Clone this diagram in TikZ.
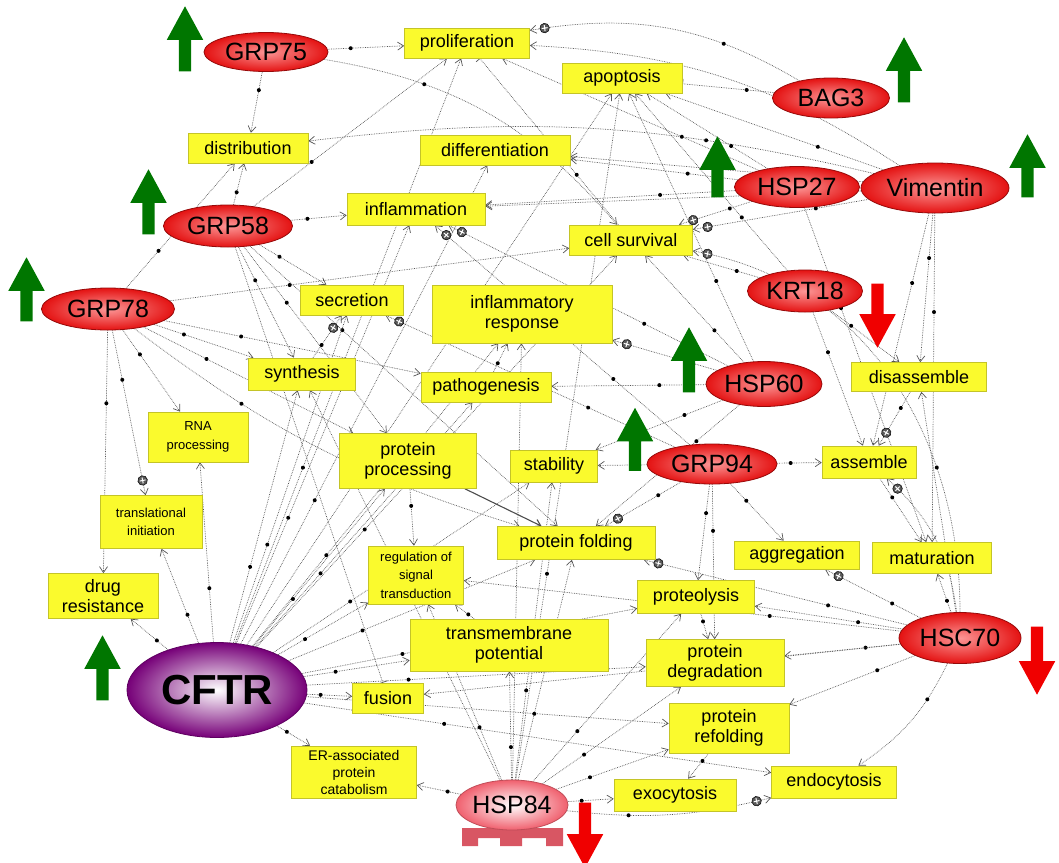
\documentclass[tikz,border=0pt]{standalone}
\usepackage{fontspec}
\setmainfont{Liberation Sans}
\usetikzlibrary{arrows.meta,shapes.geometric,shapes.arrows,decorations.markings,backgrounds}

\definecolor{boxyellow}{RGB}{250,250,45}
\definecolor{boxedge}{RGB}{196,196,40}
\definecolor{geneout}{RGB}{228,18,18}
\definecolor{genein}{RGB}{252,150,150}
\definecolor{genedge}{RGB}{150,10,10}
\definecolor{cftrout}{RGB}{118,0,120}
\definecolor{hspout}{RGB}{240,96,110}
\definecolor{upgreen}{RGB}{0,118,0}
\definecolor{downred}{RGB}{240,0,0}
\definecolor{linkgray}{RGB}{85,85,85}

\newcommand{\plusmark}{\filldraw[solid,-,fill=black!65,draw=black,line width=0.5pt] (0,0) circle (4.8pt);
  \draw[solid,-,white,line width=1pt] (-3pt,0) -- (3pt,0) (0,-3pt) -- (0,3pt);}
\newcommand{\dotmark}{\fill[black] (0,0) circle (2pt);}

\begin{document}
\begin{tikzpicture}[x=1pt,y=-1pt]
	\tikzstyle{box}=[rectangle,fill=boxyellow,draw=boxedge,line width=0.6pt,align=center,inner sep=1pt,minimum height=30pt,font=\fontsize{18}{20}\selectfont]
	\tikzstyle{smallbox}=[box,font=\fontsize{13}{18.5}\selectfont]
	\tikzstyle{gene}=[ellipse,draw=genedge,line width=0.8pt,inner color=genein,outer color=geneout,inner sep=0pt,font=\fontsize{25}{25}\selectfont]
	\tikzstyle{upmark}=[single arrow,draw=none,fill=upgreen,inner sep=6pt,single arrow head extend=12pt,single arrow tip angle=57,single arrow head indent=0pt,rotate=90]
	\tikzstyle{downmark}=[upmark,fill=downred,rotate=180]
	\tikzstyle{link}=[draw=linkgray,densely dotted,line width=0.7pt,-{Straight Barb[length=6pt,width=8pt]}]
	\tikzstyle{rel}=[link,postaction={decorate},decoration={markings,mark=at position 0.3 with {\dotmark}}]
	\tikzstyle{act}=[link,postaction={decorate},decoration={markings,mark=at position 0.3 with {\dotmark},mark=at position -15pt with {\plusmark}}]
	\tikzstyle{inh}=[rel,-{Bar[width=10pt]}]
	\useasboundingbox (0,0) rectangle (1059,862);

	\node (prolif)   at (467,43)  [box,minimum width=125pt] {proliferation};
	\node (apop)     at (622,78)  [box,minimum width=120pt] {apoptosis};
	\node (distrib)  at (248,148) [box,minimum width=120pt] {distribution};
	\node (diff)     at (495,150) [box,minimum width=150pt] {differentiation};
	\node (inflam)   at (416,209) [box,minimum width=138pt,minimum height=32pt] {inflammation};
	\node (cellsurv) at (631,240) [box,minimum width=123pt] {cell survival};
	\node (secret)   at (352,300) [box,minimum width=103pt] {secretion};
	\node (inflresp) at (522,314) [box,minimum width=180pt,minimum height=58pt] {inflammatory\\response};
	\node (synth)    at (302,374) [box,minimum width=107pt,minimum height=32pt] {synthesis};
	\node (pathog)   at (486,387) [box,minimum width=130pt] {pathogenesis};
	\node (rnaproc)  at (198,437) [smallbox,minimum width=100pt,minimum height=50pt] {RNA\\processing};
	\node (protproc) at (408,461) [box,minimum width=137pt,minimum height=55pt] {protein\\processing};
	\node (stab)     at (554,466) [box,minimum width=87pt,minimum height=32pt] {stability};
	\node (transl)   at (151,522) [smallbox,minimum width=102pt,minimum height=53pt] {translational\\initiation};
	\node (drug)     at (103,596) [box,minimum width=110pt,minimum height=45pt] {drug\\resistance};
	\node (protfold) at (576,543) [box,minimum width=158pt,minimum height=33pt] {protein folding};
	\node (regsig)   at (416,575) [smallbox,minimum width=95pt,minimum height=58pt] {regulation of\\signal\\transduction};
	\node (transmem) at (509,645) [box,minimum width=198pt,minimum height=52pt] {transmembrane\\potential};
	\node (fusion)   at (388,698) [box,minimum width=71pt] {fusion};
	\node (erad)     at (354,772) [box,minimum width=125pt,minimum height=52pt,font=\fontsize{14}{17}\selectfont] {ER-associated\\protein\\catabolism};
	\node (aggreg)   at (797,555) [box,minimum width=125pt,minimum height=28pt] {aggregation};
	\node (matur)    at (932,558) [box,minimum width=119pt,minimum height=31pt] {maturation};
	\node (proteol)  at (696,597) [box,minimum width=117pt,minimum height=33pt] {proteolysis};
	\node (protdeg)  at (715,663) [box,minimum width=138pt,minimum height=47pt] {protein\\degradation};
	\node (protref)  at (729,728) [box,minimum width=120pt,minimum height=50pt] {protein\\refolding};
	\node (endocyt)  at (834,782) [box,minimum width=125pt,minimum height=32pt] {endocytosis};
	\node (exocyt)   at (675,795) [box,minimum width=122pt,minimum height=32pt] {exocytosis};
	\node (disass)   at (919,377) [box,minimum width=135pt,minimum height=29pt] {disassemble};
	\node (assem)    at (869,462) [box,minimum width=94pt,minimum height=32pt] {assemble};

	\node (grp75) at (266,52)  [gene,minimum width=124pt,minimum height=39pt] {GRP75};
	\node (grp58) at (228,226) [gene,minimum width=129pt,minimum height=42pt] {GRP58};
	\node (grp78) at (108,309) [gene,minimum width=133pt,minimum height=42pt] {GRP78};
	\node (bag3)  at (831,98)  [gene,minimum width=117pt,minimum height=40pt] {BAG3};
	\node (hsp27) at (797,187) [gene,minimum width=125pt,minimum height=41pt] {HSP27};
	\node (vim)   at (935,188) [gene,minimum width=148pt,minimum height=50pt] {Vimentin};
	\node (krt18) at (805,291) [gene,minimum width=115pt,minimum height=42pt] {KRT18};
	\node (hsp60) at (764,384) [gene,minimum width=116pt,minimum height=45pt] {HSP60};
	\node (grp94) at (712,464) [gene,minimum width=130pt,minimum height=40pt] {GRP94};
	\node (hsc70) at (960,638) [gene,minimum width=122pt,minimum height=51pt] {HSC70};
	\node (cftr)  at (217,690) [gene,draw=cftrout!80!black,inner color=white,outer color=cftrout,minimum width=180pt,minimum height=95pt,font=\fontsize{42}{42}\selectfont\bfseries] {CFTR};
	\fill[hspout!90!black] (462,828) rectangle (563,838) (462,838) rectangle (478,846) (500,838) rectangle (522,846) (546,838) rectangle (563,846);
	\node (hsp84) at (512,805) [gene,draw=hspout!80!black,inner color=white,outer color=hspout,minimum width=108pt,minimum height=50pt] {HSP84};

	\node (up1) at (185,44.5)   [upmark,minimum height=65pt] {};
	\node (up2) at (148.5,207.5) [upmark,minimum height=65pt] {};
	\node (up3) at (26.5,295)   [upmark,minimum height=64pt] {};
	\node (up4) at (904,75.5)   [upmark,minimum height=65pt] {};
	\node (up5) at (717.5,172.5) [upmark,minimum height=61pt] {};
	\node (up6) at (1027.5,171.5) [upmark,minimum height=63pt] {};
	\node (up7) at (689,365.5)  [upmark,minimum height=65pt] {};
	\node (up8) at (635,445)    [upmark,minimum height=63pt] {};
	\node (up9) at (102.5,673.5) [upmark,minimum height=65pt] {};
	\node (down1) at (877.5,310) [downmark,minimum height=64pt] {};
	\node (down2) at (1037,655)  [downmark,minimum height=68pt] {};
	\node (down3) at (585,829.5) [downmark,minimum height=65pt] {};

	\begin{pgfonlayer}{background}
	\draw [rel] (grp75) -- (prolif);
	\draw [rel] (grp75) -- (distrib);
	\draw [rel] (grp75) to [bend left=20] (cellsurv);
	\draw [rel] (grp58) -- (distrib);
	\draw [rel] (grp58) -- (prolif);
	\draw [rel] (grp58) -- (inflam);
	\draw [rel] (grp58) -- (secret);
	\draw [rel] (grp58) -- (synth);
	\draw [rel] (grp58) -- (protfold);
	\draw [rel] (grp58) -- (protproc);
	\draw [inh] (grp58) -- (fusion);
	\draw [rel] (grp78) -- (distrib);
	\draw [rel] (grp78) -- (cellsurv);
	\draw [rel] (grp78) -- (synth);
	\draw [rel] (grp78) -- (rnaproc);
	\draw [act] (grp78) -- (transl);
	\draw [rel] (grp78) -- (drug);
	\draw [rel] (grp78) -- (protproc);
	\draw [rel] (grp78) -- (pathog);
	\draw [rel] (grp78) to [bend right=10] (protfold);

	\draw [rel] (cftr) -- (drug);
	\draw [rel] (cftr) -- (transl);
	\draw [rel] (cftr) -- (rnaproc);
	\draw [rel] (cftr) -- (synth);
	\draw [rel] (cftr) -- (secret);
	\draw [rel] (cftr) -- (inflam);
	\draw [rel] (cftr) -- (diff);
	\draw [rel] (cftr) -- (prolif);
	\draw [rel] (cftr) -- (apop);
	\draw [rel] (cftr) -- (cellsurv);
	\draw [rel] (cftr) -- (inflresp);
	\draw [rel] (cftr) -- (pathog);
	\draw [rel] (cftr) -- (protproc);
	\draw [rel] (cftr) -- (stab);
	\draw [rel] (cftr) -- (protfold);
	\draw [rel] (cftr) -- (regsig);
	\draw [rel] (cftr) -- (transmem);
	\draw [rel] (cftr) -- (fusion);
	\draw [rel] (cftr) -- (erad);
	\draw [rel] (cftr) -- (proteol);
	\draw [rel] (cftr) -- (protdeg);
	\draw [rel] (cftr) -- (protref);
	\draw [rel] (cftr) -- (endocyt);

	\draw [rel] (hsp84) -- (erad);
	\draw [rel] (hsp84) -- (exocyt);
	\draw [rel] (hsp84) -- (protref);
	\draw [rel] (hsp84) -- (protdeg);
	\draw [rel] (hsp84) -- (proteol);
	\draw [rel] (hsp84) -- (protfold);
	\draw [rel] (hsp84) -- (transmem);
	\draw [rel] (hsp84) -- (regsig);
	\draw [rel] (hsp84) -- (synth);
	\draw [rel] (hsp84) -- (inflresp);
	\draw [rel] (hsp84) -- (apop);
	\draw [rel] (hsp84) -- (stab);
	\draw [act] (hsp84) to [bend right=10] (endocyt);

	\draw [rel] (hsc70) -- (proteol);
	\draw [rel] (hsc70) -- (protdeg);
	\draw [rel] (hsc70) -- (matur);
	\draw [act] (hsc70) -- (aggreg);
	\draw [act] (hsc70) -- (protfold);
	\draw [rel] (hsc70) to [bend left=15] (endocyt);
	\draw [rel] (hsc70) -- (protref);
	\draw [rel] (hsc70) -- (regsig);
	\draw [rel] (hsc70) -- (fusion);
	\draw [act] (hsc70) to [bend right=20] (assem);
	\draw [rel] (hsc70) -- (disass);
	\draw [act] (hsc70) to [out=90,in=-10] (cellsurv);

	\draw [act] (vim) -- (cellsurv);
	\draw [rel] (vim) -- (apop);
	\draw [rel] (vim) to [bend right=15] (prolif);
	\draw [rel] (vim) -- (diff);
	\draw [rel] (vim) -- (disass);
	\draw [rel] (vim) -- (assem);
	\draw [rel] (vim) -- (matur);
	\draw [rel] (vim) -- (inflam);
	\draw [rel] (vim) to [bend right=10] (distrib);
	\draw [rel] (hsp27) -- (apop);
	\draw [rel] (hsp27) -- (prolif);
	\draw [rel] (hsp27) -- (diff);
	\draw [rel] (hsp27) -- (inflam);
	\draw [act] (hsp27) -- (cellsurv);
	\draw [rel] (hsp27) -- (matur);
	\draw [inh] (bag3) -- (apop);
	\draw [act] (bag3) to [bend right=20] (prolif);
	\draw [rel] (krt18) -- (cellsurv);
	\draw [rel] (krt18) -- (assem);
	\draw [rel] (krt18) -- (disass);
	\draw [rel] (krt18) -- (apop);
	\draw [rel] (hsp60) -- (pathog);
	\draw [act] (hsp60) -- (inflresp);
	\draw [rel] (hsp60) -- (stab);
	\draw [rel] (hsp60) -- (apop);
	\draw [rel] (hsp60) -- (cellsurv);
	\draw [act] (hsp60) -- (inflam);
	\draw [rel] (hsp60) -- (protfold);
	\draw [rel] (grp94) -- (assem);
	\draw [act] (grp94) -- (protfold);
	\draw [rel] (grp94) -- (proteol);
	\draw [rel] (grp94) -- (aggreg);
	\draw [rel] (grp94) -- (protdeg);
	\draw [rel] (grp94) -- (stab);
	\draw [act] (grp94) -- (secret);
	\draw [act] (grp94) -- (inflam);

	\draw [link,solid,line width=1.1pt,draw=black!70] (protproc) -- (protfold);
	\draw [rel] (protproc) -- (regsig);
	\draw [act] (synth) -- (secret);
	\draw [rel] (proteol) -- (protdeg);
	\draw [rel] (protref) -- (exocyt);
	\draw [rel] (transmem) -- (regsig);
	\draw [rel] (pathog) -- (inflresp);
	\draw [act] (disass) -- (assem);
	\draw [rel] (assem) -- (matur);
	\draw [inh] (cellsurv) -- (prolif);
	\end{pgfonlayer}
\end{tikzpicture}
\end{document}
